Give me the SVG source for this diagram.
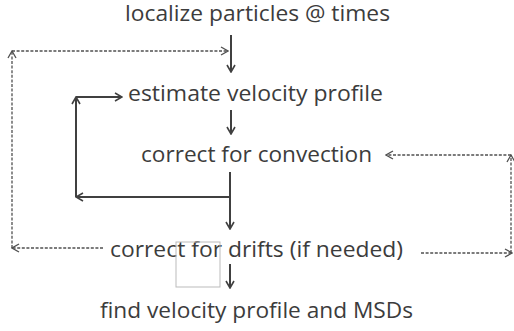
<svg xmlns="http://www.w3.org/2000/svg" width="514" height="331" viewBox="0 0 514 331">
<defs>
<style>
.t{font-family:"Open Sans","Liberation Sans",sans-serif;font-size:21px;fill:#3c3c3c}
.s{stroke:#404040;stroke-width:2;fill:none}
.d{stroke:#505050;stroke-width:1.3;stroke-dasharray:3 1.6;fill:none}
</style>
<marker id="a" viewBox="0 0 10 10" refX="9" refY="5" markerWidth="10" markerHeight="10" markerUnits="userSpaceOnUse" orient="auto">
<path d="M2,1 L9,5 L2,9" fill="none" stroke="#404040" stroke-width="1.6"/>
</marker>
<marker id="b" viewBox="0 0 10 10" refX="9" refY="5" markerWidth="10" markerHeight="10" markerUnits="userSpaceOnUse" orient="auto">
<path d="M2,1 L9,5 L2,9" fill="none" stroke="#505050" stroke-width="1.3"/>
</marker>
</defs>
<rect width="514" height="331" fill="#fff"/>
<g id="n1"><text class="t" x="125" y="21" textLength="265" lengthAdjust="spacingAndGlyphs">localize particles @ times</text></g>
<g id="n2"><text class="t" x="128" y="101" textLength="255" lengthAdjust="spacingAndGlyphs">estimate velocity profile</text></g>
<g id="n3"><text class="t" x="141" y="162" textLength="231" lengthAdjust="spacingAndGlyphs">correct for convection</text></g>
<g id="n4"><text class="t" x="110" y="257" textLength="293" lengthAdjust="spacingAndGlyphs">correct for drifts (if needed)</text></g>
<g id="n5"><text class="t" x="100" y="318" textLength="313" lengthAdjust="spacingAndGlyphs">find velocity profile and MSDs</text></g>
<g id="box"><rect x="176" y="242" width="44" height="45" fill="none" stroke="#bbb" stroke-width="1"/></g>
<g id="connectors">
<line class="s" x1="231" y1="35" x2="231" y2="72" marker-end="url(#a)"/>
<line class="s" x1="231" y1="110" x2="231" y2="134" marker-end="url(#a)"/>
<line class="s" x1="230" y1="172" x2="230" y2="229" marker-end="url(#a)"/>
<line class="s" x1="230" y1="264" x2="230" y2="288" marker-end="url(#a)"/>
<line class="s" x1="230" y1="197" x2="76" y2="197" marker-end="url(#a)"/>
<line class="s" x1="76" y1="197" x2="76" y2="97" marker-end="url(#a)"/>
<line class="s" x1="76" y1="97" x2="122" y2="97" marker-end="url(#a)"/>
<line class="d" x1="103" y1="248" x2="12" y2="248" marker-end="url(#b)"/>
<line class="d" x1="12" y1="248" x2="12" y2="51" marker-end="url(#b)"/>
<line class="d" x1="12" y1="51" x2="228" y2="51" marker-end="url(#b)"/>
<line class="d" x1="421" y1="253" x2="512" y2="253" marker-end="url(#b)"/>
<line class="d" x1="511" y1="253" x2="511" y2="155" marker-end="url(#b)"/>
<line class="d" x1="511" y1="155" x2="386" y2="155" marker-end="url(#b)"/>
</g>
</svg>
